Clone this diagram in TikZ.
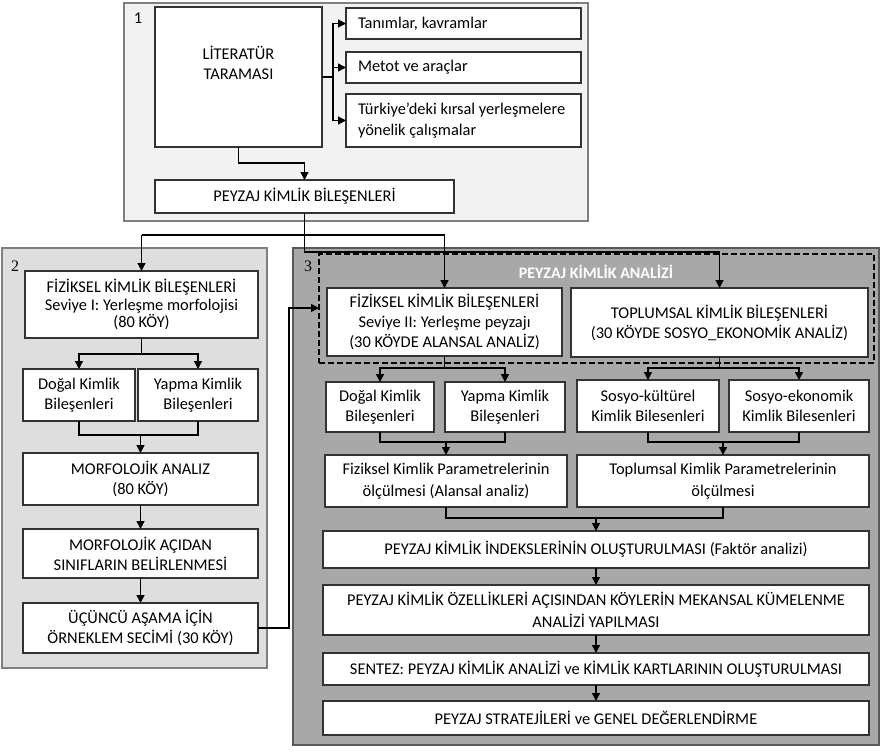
\documentclass[tikz,border=0pt]{standalone}
\usepackage{fontspec}
\setmainfont{Carlito}
\newfontfamily\numfont{Liberation Serif}
\usetikzlibrary{arrows.meta}
\frenchspacing
\definecolor{pone}{HTML}{F2F2F2}
\definecolor{ptwo}{HTML}{DEDEDE}
\definecolor{pthree}{HTML}{A8A8A8}
\definecolor{pborder}{HTML}{7F7F7F}
\definecolor{bborder}{HTML}{333333}
\newcommand\bx[7][]{\node[box,#1,anchor=north west,minimum width={#5-#3},minimum height={#6-#4}] (#2) at (#3,#4) {#7};}
\begin{document}
\begin{tikzpicture}[x=1pt,y=-1pt,
  box/.style={draw=bborder,fill=white,line width=1.1pt,inner sep=2pt,outer sep=0pt,align=center,font=\frenchspacing\fontsize{16.4}{20}\selectfont},
  lbox/.style={align=flush left,inner xsep=12pt,text width={#1}},
  panel/.style={draw=pborder,line width=1.4pt},
  dbox/.style={draw=black,line width=2.2pt,dash pattern=on 6pt off 3pt,inner sep=0pt,outer sep=0pt},
  ln/.style={line width=1.4pt},
  arr/.style={line width=1.4pt,-{Triangle[length=8pt,width=8pt]}},
  num/.style={inner sep=0pt,font=\numfont\fontsize{16}{18}\selectfont}]
\useasboundingbox (0,0) rectangle (886,752);
% panels
\path[panel,fill=pone] (124,3) rectangle (588,221);
\path[panel,fill=ptwo] (2,248) rectangle (267,668);
\path[panel,fill=pthree,draw=black!65] (293,248) rectangle (879,745);
\node[num,font=\fontsize{16.5}{18}\selectfont] (n1) at (138,18) {1};
\node[num] (n2) at (15,266) {2};
\node[num] (n3) at (308,266) {3};
\node[dbox,anchor=north west,minimum width=555,minimum height=109] (pka) at (319,254) {};
\node[inner sep=0pt,text=white,font=\bfseries\fontsize{16}{18}\selectfont] (title) at (596,272) {PEYZAJ KİMLİK ANALİZİ};
% panel 1
\bx{lit}{155}{7}{322}{147}{LİTERATÜR\\TARAMASI\\[8pt]}
\bx[lbox=211]{tan}{346}{8}{581}{39}{Tanımlar, kavramlar}
\bx[lbox=211]{met}{346}{52}{581}{83}{Metot ve araçlar}
\bx[lbox=211,font=\fontsize{16.4}{21.5}\selectfont]{tur}{346}{94}{581}{147}{Türkiye’deki kırsal yerleşmelere\\yönelik çalışmalar}
\bx{pkb}{155}{180}{454}{213}{PEYZAJ KİMLİK BİLEŞENLERİ}
% panel 2
\bx[font=\fontsize{16.4}{17.5}\selectfont]{fiz1}{25}{271}{258}{338}{FİZİKSEL KİMLİK BİLEŞENLERİ\\Seviye I: Yerleşme morfolojisi\\(80 KÖY)}
\bx{dog1}{23}{369}{135}{421}{Doğal Kimlik\\Bileşenleri}
\bx{yap1}{138}{369}{258}{421}{Yapma Kimlik\\Bileşenleri}
\bx{morf}{23}{453}{258}{505}{MORFOLOJİK ANALIZ\\(80 KÖY)}
\bx{sinif}{23}{529}{258}{578}{MORFOLOJİK AÇIDAN\\SINIFLARIN BELİRLENMESİ}
\bx{ucun}{23}{603}{258}{653}{ÜÇÜNCÜ AŞAMA İÇİN\\ÖRNEKLEM SECİMİ (30 KÖY)}
% panel 3
\bx{fiz2}{327}{288}{562}{356}{FİZİKSEL KİMLİK BİLEŞENLERİ\\Seviye II: Yerleşme peyzajı\\(30 KÖYDE ALANSAL ANALİZ)}
\bx{top}{571}{288}{868}{357}{TOPLUMSAL KİMLİK BİLEŞENLERİ\\(30 KÖYDE SOSYO\_EKONOMİK ANALİZ)}
\bx{dog2}{326}{382}{434}{432}{Doğal Kimlik\\Bileşenleri}
\bx{yap2}{445}{382}{565}{432}{Yapma Kimlik\\Bileşenleri}
\bx{sk}{577}{380}{719}{432}{Sosyo-kültürel\\Kimlik Bilesenleri}
\bx{se}{729}{380}{869}{432}{Sosyo-ekonomik\\Kimlik Bilesenleri}
\bx[font=\fontsize{16.4}{22}\selectfont]{fpar}{325}{455}{567}{507}{Fiziksel Kimlik Parametrelerinin\\ölçülmesi (Alansal analiz)}
\bx[font=\fontsize{16.4}{22}\selectfont]{tpar}{577}{455}{869}{507}{Toplumsal Kimlik Parametrelerinin\\ölçülmesi}
\bx{indeks}{323}{531}{869}{568}{PEYZAJ KİMLİK İNDEKSLERİNİN OLUŞTURULMASI (Faktör analizi)}
\bx[font=\fontsize{16.4}{22}\selectfont]{mek}{323}{585}{869}{635}{PEYZAJ KİMLİK ÖZELLİKLERİ AÇISINDAN KÖYLERİN MEKANSAL KÜMELENME\\ANALİZİ YAPILMASI}
\bx{sentez}{323}{653}{869}{685}{SENTEZ: PEYZAJ KİMLİK ANALİZİ ve KİMLİK KARTLARININ OLUŞTURULMASI}
\bx{strat}{323}{701}{869}{735}{PEYZAJ STRATEJİLERİ ve GENEL DEĞERLENDİRME}
% junction coordinates
\coordinate (lb) at (333,78);
\coordinate (c1) at (238,163);
\coordinate (c2) at (0,252);
\coordinate (c3) at (0,235);
\coordinate (c4) at (0,354);
\coordinate (c5) at (0,435);
\coordinate (c6) at (289,0);
\coordinate (c7) at (0,308);
\coordinate (c8) at (0,368);
\coordinate (c9) at (0,442);
\coordinate (c10) at (0,518);
% connectors panel 1
\draw[ln] (lit.east) -- (lit.east -| lb);
\draw[ln] (lb |- tan.west) -- (lb |- tur.west);
\draw[arr] (lb |- tan.west) -- (tan.west);
\draw[arr] (lb |- met.west) -- (met.west);
\draw[arr] (lb |- tur.west) -- (tur.west);
\draw[arr] (lit.south) |- (pkb.north |- c1) -- (pkb.north);
\draw[arr] (pkb.south) -- (pkb.south |- c2) -| (top.north);
\draw[ln] (fiz1.north |- c3) -- (fiz2.north |- c3);
\draw[arr] (fiz1.north |- c3) -- (fiz1.north);
\draw[arr] (fiz2.north |- c3) -- (fiz2.north);
% panel 2
\draw[arr] (fiz1.south) -- (fiz1.south |- c4) -| (dog1.north);
\draw[arr] (fiz1.south |- c4) -| (yap1.north);
\draw[ln] (dog1.south) |- (yap1.south |- c5) -- (yap1.south);
\draw[arr] (morf.north |- c5) -- (morf.north);
\draw[arr] (morf.south) -- (sinif.north);
\draw[arr] (sinif.south) -- (ucun.north);
\draw[arr] (ucun.east) -- (ucun.east -| c6) -- (c6 |- c7) -- (pka.west |- c7);
% panel 3
\draw[arr] (fiz2.south) -- (fiz2.south |- c8) -| (dog2.north);
\draw[arr] (fiz2.south |- c8) -| (yap2.north);
\draw[arr] (top.south) -- (top.south |- c8) -| (sk.north);
\draw[arr] (top.south |- c8) -| (se.north);
\draw[ln] (dog2.south) |- (yap2.south |- c9) -- (yap2.south);
\draw[arr] (fpar.north |- c9) -- (fpar.north);
\draw[ln] (sk.south) |- (se.south |- c9) -- (se.south);
\draw[arr] (tpar.north |- c9) -- (tpar.north);
\draw[ln] (fpar.south) |- (tpar.south |- c10) -- (tpar.south);
\draw[arr] (indeks.north |- c10) -- (indeks.north);
\draw[arr] (indeks.south) -- (mek.north);
\draw[arr] (mek.south) -- (sentez.north);
\draw[arr] (sentez.south) -- (strat.north);
\end{tikzpicture}
\end{document}
